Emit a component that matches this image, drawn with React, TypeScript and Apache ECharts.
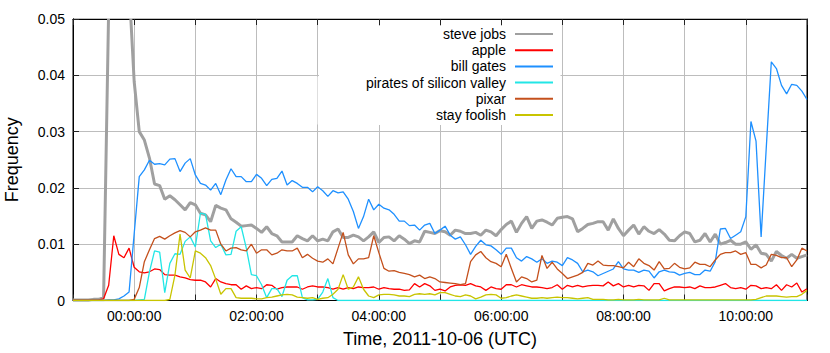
import React, { useEffect, useRef } from 'react';
import * as echarts from 'echarts';

// time: hours relative to 2011-10-06 00:00 UTC, one sample every 5 minutes
const START_HOUR = -1;
const STEP_HOURS = 5 / 60;

const seriesNames = ['steve jobs', 'apple', 'bill gates', 'pirates of silicon valley', 'pixar', 'stay foolish'];
const seriesColors = ['#a0a0a0', '#ff0000', '#1e90ff', '#22e6e6', '#c4501c', '#c8c400'];
const xTickHours = [0, 2, 4, 6, 8, 10];

const steveJobs = [
  0.0001, 0.0001, 0.0001, 0.0001, 0.0002, 0.0002, 0.0005, 0.052, 0.075, 0.085, 0.07, 0.056,
  0.0389, 0.03, 0.0285, 0.0253, 0.0207, 0.0204, 0.018, 0.0186, 0.0179, 0.017, 0.0161, 0.0174,
  0.017, 0.0155, 0.0152, 0.014, 0.0169, 0.0164, 0.0161, 0.0145, 0.0139, 0.0132, 0.0133, 0.0134,
  0.0128, 0.0121, 0.0131, 0.0119, 0.0115, 0.0104, 0.0104, 0.0104, 0.0115, 0.011, 0.0106, 0.0115,
  0.0106, 0.0109, 0.0106, 0.0122, 0.0127, 0.0112, 0.0112, 0.0116, 0.0113, 0.0106, 0.0113, 0.0122,
  0.0103, 0.0112, 0.0113, 0.0106, 0.0115, 0.0109, 0.0101, 0.0106, 0.0104, 0.0123, 0.0121, 0.0119,
  0.0124, 0.0122, 0.0116, 0.0125, 0.0123, 0.0119, 0.0119, 0.0121, 0.0116, 0.0125, 0.0122, 0.0115,
  0.0126, 0.0135, 0.0141, 0.0121, 0.0137, 0.0149, 0.0128, 0.0141, 0.0143, 0.0139, 0.0134, 0.0146,
  0.0148, 0.0149, 0.0145, 0.0122, 0.0128, 0.0135, 0.0137, 0.014, 0.014, 0.0125, 0.0145, 0.0128,
  0.0115, 0.0125, 0.0134, 0.0118, 0.0131, 0.0123, 0.0119, 0.0126, 0.0118, 0.0107, 0.0106, 0.0115,
  0.0122, 0.0119, 0.0104, 0.0107, 0.0119, 0.0104, 0.0118, 0.01, 0.0103, 0.0107, 0.01, 0.01,
  0.0104, 0.0091, 0.0099, 0.0084, 0.0082, 0.007, 0.0087, 0.008, 0.0075, 0.0082, 0.0075, 0.0078,
  0.0081,
];

const apple = [
  0.0001, 0.0001, 0.0001, 0.0001, 0.0001, 0.0001, 0.0003, 0.0027, 0.0115, 0.0082, 0.0076, 0.0093,
  0.0059, 0.0051, 0.0049, 0.0051, 0.0056, 0.0055, 0.0046, 0.0045, 0.0045, 0.0042, 0.004, 0.0037,
  0.0036, 0.0036, 0.0033, 0.0024, 0.0039, 0.0033, 0.003, 0.0028, 0.0028, 0.002, 0.0026, 0.0021,
  0.0023, 0.0021, 0.0028, 0.0027, 0.002, 0.0023, 0.0024, 0.0024, 0.0024, 0.002, 0.0024, 0.0026,
  0.0024, 0.0024, 0.0023, 0.002, 0.0023, 0.002, 0.0023, 0.0021, 0.0024, 0.0023, 0.0023, 0.0024,
  0.002, 0.0023, 0.0021, 0.002, 0.002, 0.0018, 0.0019, 0.003, 0.0024, 0.003, 0.0026, 0.0018,
  0.002, 0.0017, 0.0024, 0.0027, 0.0028, 0.0027, 0.003, 0.0026, 0.0024, 0.0018, 0.0024, 0.0021,
  0.002, 0.0028, 0.0028, 0.0024, 0.0028, 0.0026, 0.0024, 0.0024, 0.0023, 0.0021, 0.0023, 0.0028,
  0.002, 0.0027, 0.0024, 0.0027, 0.0024, 0.0026, 0.0027, 0.0027, 0.0026, 0.0033, 0.0026, 0.003,
  0.0024, 0.0027, 0.0024, 0.0027, 0.0026, 0.0018, 0.003, 0.003, 0.0017, 0.0021, 0.0024, 0.0024,
  0.0023, 0.0024, 0.0021, 0.0026, 0.0023, 0.0023, 0.0024, 0.0027, 0.003, 0.0023, 0.0021, 0.0023,
  0.002, 0.0027, 0.0026, 0.0021, 0.0023, 0.0021, 0.0028, 0.0018, 0.0028, 0.0024, 0.0031, 0.0015,
  0.0021,
];

const billGates = [
  0, 0, 0, 0, 0, 0, 0, 0.0001, 0.0001, 0.0003, 0.0008, 0.0015,
  0.0118, 0.022, 0.0232, 0.0249, 0.0242, 0.0243, 0.0241, 0.0251, 0.0252, 0.0229, 0.0244, 0.0252,
  0.0223, 0.0208, 0.0205, 0.0196, 0.0208, 0.0188, 0.0214, 0.0234, 0.022, 0.022, 0.0211, 0.0211,
  0.0224, 0.0217, 0.0204, 0.0215, 0.0217, 0.023, 0.0205, 0.0213, 0.0208, 0.0201, 0.0201, 0.0193,
  0.0202, 0.0195, 0.0185, 0.0195, 0.0191, 0.0193, 0.018, 0.0158, 0.0128, 0.0149, 0.018, 0.0161,
  0.0171, 0.0164, 0.0161, 0.0153, 0.0141, 0.0141, 0.0133, 0.0134, 0.0125, 0.0134, 0.0137, 0.0119,
  0.0125, 0.0132, 0.0116, 0.0109, 0.0113, 0.0099, 0.0082, 0.0096, 0.0107, 0.0099, 0.0097, 0.009,
  0.0082, 0.0093, 0.0093, 0.0076, 0.007, 0.0078, 0.0074, 0.0068, 0.0074, 0.0066, 0.007, 0.0068,
  0.0062, 0.0076, 0.0072, 0.0066, 0.0051, 0.0054, 0.0051, 0.0044, 0.0048, 0.0052, 0.0056, 0.0069,
  0.0056, 0.0054, 0.0054, 0.005, 0.0054, 0.0052, 0.004, 0.0051, 0.0054, 0.0051, 0.005, 0.0045,
  0.0048, 0.005, 0.0046, 0.0046, 0.0054, 0.0052, 0.0069, 0.0127, 0.0128, 0.011, 0.0116, 0.0122,
  0.0149, 0.0318, 0.0283, 0.0113, 0.027, 0.0424, 0.0412, 0.0382, 0.0367, 0.0384, 0.0382, 0.0372,
  0.0357,
];

const piratesOfSiliconValley = [
  0, 0, 0, 0, 0, 0, 0, 0, 0, 0, 0, 0,
  0, 0.0001, 0.0002, 0.0051, 0.0088, 0.0086, 0.0014, 0.0066, 0.0083, 0.0082, 0.0105, 0.0113,
  0.0095, 0.0155, 0.0153, 0.0106, 0.0094, 0.01, 0.0081, 0.0082, 0.0123, 0.0131, 0.0093, 0.0046,
  0.0044, 0.0028, 0.0005, 0.0021, 0.0021, 0.0007, 0.0036, 0.0044, 0.0044, 0.0005, 0.0001, 0.0001,
  0.0002, 0.0015, 0.0039, 0.0005, 0, 0, 0, 0, 0, 0, 0, 0,
  0, 0, 0, 0, 0, 0, 0, 0, 0, 0, 0, 0,
  0, 0, 0, 0, 0, 0, 0, 0, 0, 0, 0, 0,
  0, 0, 0, 0, 0, 0, 0, 0, 0, 0, 0, 0,
  0, 0, 0, 0, 0, 0, 0, 0, 0, 0, 0, 0,
  0, 0, 0, 0, 0, 0, 0, 0, 0, 0, 0, 0,
  0, 0, 0, 0, 0, 0, 0, 0, 0, 0, 0, 0,
  0, 0, 0, 0, 0, 0, 0, 0, 0, 0, 0, 0,
  0,
];

const pixar = [
  0, 0, 0, 0, 0, 0, 0, 0, 0, 0, 0, 0,
  0.0002, 0.0023, 0.0069, 0.009, 0.011, 0.0114, 0.0109, 0.0115, 0.012, 0.0124, 0.0121, 0.0113,
  0.0122, 0.0125, 0.0129, 0.0125, 0.0125, 0.01, 0.0088, 0.0093, 0.0094, 0.009, 0.0088, 0.01,
  0.0084, 0.009, 0.009, 0.0081, 0.0084, 0.009, 0.0088, 0.0088, 0.0093, 0.0076, 0.0082, 0.0075,
  0.007, 0.0068, 0.0074, 0.0065, 0.0093, 0.0121, 0.0081, 0.0065, 0.0074, 0.0074, 0.0076, 0.0115,
  0.0085, 0.0057, 0.0052, 0.0053, 0.005, 0.0048, 0.0046, 0.0042, 0.0045, 0.0039, 0.0042, 0.0039,
  0.0033, 0.0032, 0.0031, 0.003, 0.0028, 0.003, 0.0069, 0.0081, 0.0087, 0.0076, 0.0069, 0.0066,
  0.006, 0.0082, 0.0057, 0.0033, 0.0042, 0.0039, 0.0033, 0.0036, 0.008, 0.0057, 0.0068, 0.0056,
  0.0048, 0.0039, 0.0042, 0.0045, 0.005, 0.0066, 0.0063, 0.007, 0.0063, 0.0062, 0.0062, 0.006,
  0.0058, 0.0068, 0.006, 0.0074, 0.0066, 0.0062, 0.0054, 0.0069, 0.0056, 0.0057, 0.0066, 0.0059,
  0.0056, 0.0058, 0.0068, 0.0064, 0.0064, 0.006, 0.0072, 0.0082, 0.0085, 0.0085, 0.0088, 0.0082,
  0.0085, 0.0064, 0.0064, 0.0058, 0.0063, 0.0082, 0.008, 0.0076, 0.0076, 0.006, 0.0072, 0.0093,
  0.0088,
];

const stayFoolish = [
  0, 0, 0, 0, 0, 0, 0, 0, 0, 0, 0, 0,
  0, 0, 0, 0, 0, 0, 0, 0.0002, 0.0045, 0.0118, 0.0054, 0.004,
  0.0088, 0.0084, 0.0076, 0.0062, 0.0038, 0.0011, 0.0021, 0.0021, 0.0005, 0.0004, 0.0004, 0.0004,
  0.0003, 0.0003, 0.0005, 0.0006, 0.0008, 0.001, 0.0011, 0.001, 0.0006, 0.0005, 0.0004, 0.0005,
  0.0002, 0.0004, 0.0005, 0.0011, 0.002, 0.0046, 0.002, 0.0024, 0.0042, 0.002, 0.0008, 0.0005,
  0.001, 0.0011, 0.0011, 0.001, 0.0008, 0.0008, 0.0007, 0.0011, 0.0012, 0.0011, 0.0012, 0.001,
  0.0014, 0.0014, 0.0011, 0.0008, 0.0007, 0.001, 0.0008, 0.0003, 0.0006, 0.001, 0.0011, 0.001,
  0.0004, 0.0005, 0.0008, 0.001, 0.0008, 0.0006, 0.0004, 0.0004, 0.0005, 0.0004, 0.0005, 0.0006,
  0.0005, 0.0005, 0.0004, 0.0003, 0.0004, 0.0005, 0.0002, 0.0002, 0.0002, 0.0001, 0.0001, 0.0002,
  0.0001, 0.0001, 0.0001, 0.0002, 0.0001, 0.0001, 0.0001, 0.0001, 0.0004, 0.0001, 0.0001, 0.0001,
  0.0001, 0.0001, 0.0001, 0.0001, 0.0001, 0.0001, 0.0001, 0.0001, 0.0001, 0.0001, 0.0001, 0.0001,
  0.0001, 0.0001, 0.0002, 0.0005, 0.0008, 0.0008, 0.0008, 0.0007, 0.0006, 0.0007, 0.0007, 0.0011,
  0.0018,
];

const seriesValues = [steveJobs, apple, billGates, piratesOfSiliconValley, pixar, stayFoolish];
const seriesWidths = [3, 1.3, 1.3, 1.3, 1.3, 1.3];

const FONT = '"Liberation Sans", Arial, Helvetica, sans-serif';

function pad2(n: number) {
  return (n < 10 ? '0' : '') + n;
}

export default function App() {
  const ref = useRef<HTMLDivElement>(null);

  useEffect(() => {
    if (!ref.current) return;
    const chart = echarts.init(ref.current, null, { renderer: 'svg' });

    const series = seriesNames.map((name, k) => ({
      name,
      type: 'line',
      symbol: 'none',
      data: seriesValues[k].map((v, i) => [START_HOUR + i * STEP_HOURS, v]),
      lineStyle: { color: seriesColors[k], width: seriesWidths[k] },
      itemStyle: { color: seriesColors[k] },
      clip: true,
    }));

    const tickStyle = { show: true, inside: true, length: 6, lineStyle: { color: '#222', width: 1 } };
    const axisLine = { show: true, onZero: false, lineStyle: { color: '#000', width: 1 } };

    chart.setOption({
      animation: false,
      backgroundColor: '#ffffff',
      textStyle: { fontFamily: FONT },
      grid: {
        left: 73,
        right: 23,
        top: 19,
        bottom: 52.5,
        containLabel: false,
        outerBoundsMode: 'none',
        show: true,
        borderColor: '#000',
        borderWidth: 1,
        backgroundColor: 'transparent',
      },
      legend: {
        orient: 'vertical',
        align: 'right',
        right: 271,
        top: 22,
        itemWidth: 38,
        itemHeight: 14,
        itemGap: 2.2,
        selectedMode: false,
        data: seriesNames,
        itemStyle: { opacity: 0 },
        textStyle: { fontSize: 14, color: '#000', fontFamily: FONT, padding: [0, 4, 0, 0] },
      },
      graphic: [
        { type: 'rect', z: 1, silent: true, shape: { x: 317.5, y: 76.5, width: 243, height: 48 }, style: { fill: '#fff' } },
        { type: 'rect', z: 1, silent: true, shape: { x: 319, y: 26, width: 241.5, height: 99 }, style: { fill: '#fff' } },
        { type: 'rect', z: 50, silent: true, shape: { x: 74, y: 0, width: 733, height: 18.4 }, style: { fill: '#fff' } },
      ],
      xAxis: [
        {
          type: 'value',
          min: -1,
          max: 11,
          interval: 1,
          name: 'Time, 2011-10-06 (UTC)',
          nameLocation: 'middle',
          nameGap: 29,
          nameTextStyle: { fontSize: 18, color: '#000', fontFamily: FONT },
          axisLine,
          axisTick: tickStyle,
          splitLine: { show: true, lineStyle: { color: '#bdbdbd', width: 1 } },
          axisLabel: {
            fontSize: 14,
            color: '#000',
            margin: 8,
            fontFamily: FONT,
            formatter: (v: number) => (xTickHours.indexOf(v) >= 0 ? pad2(v) + ':00:00' : ''),
          },
        },
        {
          type: 'value',
          position: 'top',
          min: -1,
          max: 11,
          interval: 1,
          axisLine,
          axisTick: tickStyle,
          axisLabel: { show: false },
          splitLine: { show: false },
        },
      ],
      yAxis: [
        {
          type: 'value',
          min: 0,
          max: 0.05,
          interval: 0.01,
          name: 'Frequency',
          nameLocation: 'middle',
          nameGap: 52,
          nameTextStyle: { fontSize: 18, color: '#000', fontFamily: FONT },
          axisLine,
          axisTick: tickStyle,
          splitLine: { show: true, lineStyle: { color: '#bdbdbd', width: 1 } },
          axisLabel: {
            fontSize: 14,
            color: '#000',
            margin: 8,
            fontFamily: FONT,
            formatter: (v: number) => (Math.abs(v) < 1e-9 ? '0' : v.toFixed(2)),
          },
        },
        {
          type: 'value',
          position: 'right',
          min: 0,
          max: 0.05,
          interval: 0.01,
          axisLine,
          axisTick: tickStyle,
          axisLabel: { show: false },
          splitLine: { show: false },
        },
      ],
      series,
    });

    return () => chart.dispose();
  }, []);

  return (
    <div
      ref={ref}
      style={{ position: 'fixed', left: 0, top: 0, width: 830, height: 353, background: '#fff' }}
    />
  );
}
